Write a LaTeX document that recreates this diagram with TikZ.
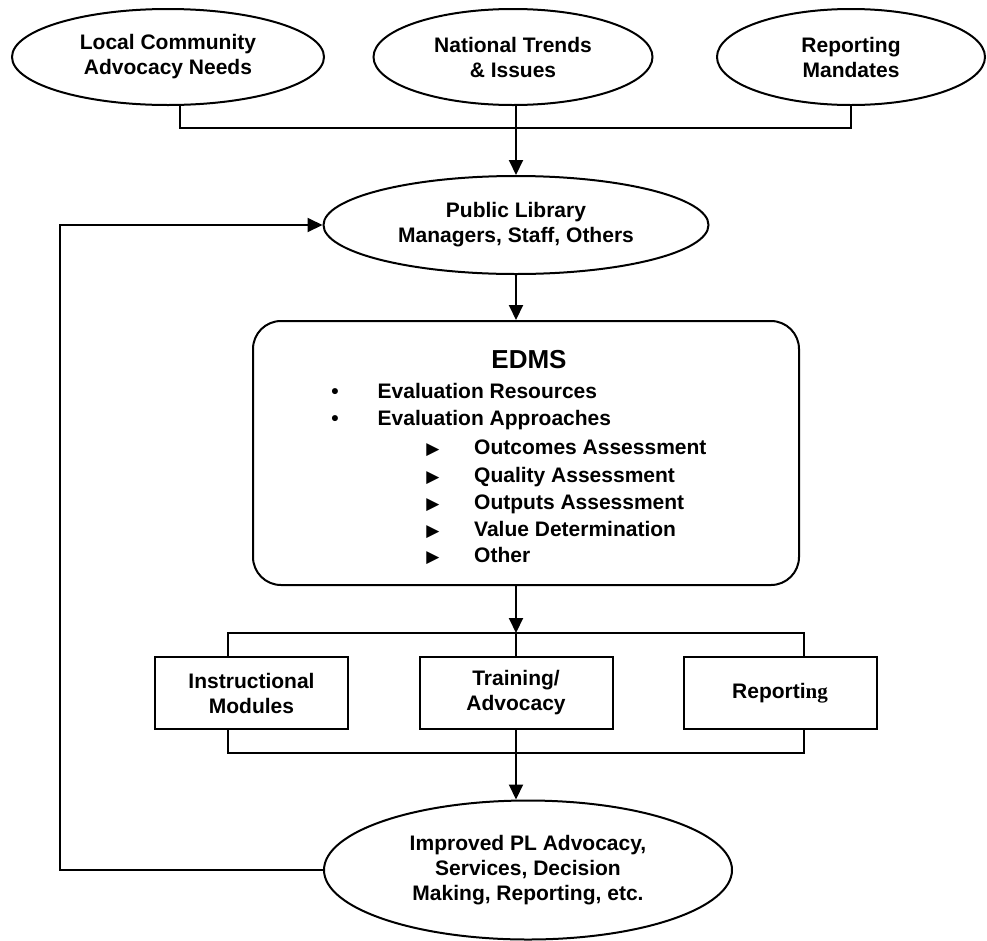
\documentclass[tikz,border=0pt]{standalone}
\usepackage{fontspec}
\setmainfont{Liberation Sans}
\newfontfamily\serifng{Liberation Serif}
\newfontfamily\symfam{DejaVu Sans}
\usetikzlibrary{shapes.geometric,arrows.meta}
\begin{document}
\begin{tikzpicture}[x=1pt,y=-1pt,
  every node/.style={font=\bfseries\fontsize{21}{25}\selectfont, align=center, inner sep=0pt},
  oval/.style={draw, ellipse, line width=2pt},
  box/.style={draw, rectangle, line width=2pt},
  conn/.style={line width=2pt},
  arr/.style={conn, -{Triangle[length=15pt,width=14pt]}},
  item/.style={anchor=base west},
  symb/.style={anchor=base},
  tri/.style={anchor=base, font=\symfam\fontsize{17}{17}\selectfont},
]
\useasboundingbox (0,0) rectangle (987,940);

% top ellipses
\node[oval, minimum width=312, minimum height=96] (tl) at (168,57) {Local Community\\Advocacy Needs};
\node[oval, minimum width=279, minimum height=96] (tm) at (513,57) {National Trends\\\& Issues};
\node[oval, minimum width=268, minimum height=96] (tr) at (851,57) {Reporting\\Mandates};

% public library
\node[oval, minimum width=385, minimum height=98] (pl) at (516,225) {Public Library\\Managers, Staff, Others};

% EDMS box
\node[box, rounded corners=28pt, minimum width=546, minimum height=264] (edms) at (526,453) {};
\node[symb] (edmst) at (529,368) {\fontsize{26}{30}\selectfont EDMS};
\node[symb] (bu1) at (335,398) {•};
\node[item] (e1) at (377.5,398) {Evaluation Resources};
\node[symb] (bu2) at (335,425) {•};
\node[item] (e2) at (377.5,425) {Evaluation Approaches};
\node[tri] (tr1) at (433,454) {▶};
\node[item] (s1) at (474,454) {Outcomes Assessment};
\node[tri] (tr2) at (433,482) {▶};
\node[item] (s2) at (474,482) {Quality Assessment};
\node[tri] (tr3) at (433,509) {▶};
\node[item] (s3) at (474,509) {Outputs Assessment};
\node[tri] (tr4) at (433,536) {▶};
\node[item] (s4) at (474,536) {Value Determination};
\node[tri] (tr5) at (433,562) {▶};
\node[item] (s5) at (474,562) {Other};

% three boxes
\node[box, minimum width=193, minimum height=72] (b1) at (251.5,693) {Instructional\\Modules};
\node[box, minimum width=193, minimum height=72] (b2) at (516,693) {Training/\\Advocacy};
\node[box, minimum width=193, minimum height=72] (b3) at (780,693) {Reporti{\serifng ng}};

% improved
\node[oval, minimum width=408, minimum height=139] (imp) at (528,870) {Improved PL Advocacy,\\Services, Decision\\Making, Reporting, etc.};

% junction coordinates
\coordinate (jt) at (516,128);
\coordinate (tb1) at (228,633);
\coordinate (tb3) at (804,633);
\coordinate (bb1) at (228,753);
\coordinate (bb3) at (804,753);
\coordinate (fbc) at (60,500);

% connectors
\draw[conn] ([xshift=12pt]tl.south) |- (jt) -| (tr.south);
\draw[arr] (pl.north |- tm.south) -- (pl.north);
\draw[arr] (pl.south) -- (pl.south |- edms.north);
\draw[arr] (b2.north |- edms.south) -- (b2.north |- tb1);
\draw[conn] (b1.north -| tb1) -- (tb1) -- (tb3) -- (b3.north -| tb3);
\draw[conn] (b2.north) -- (b2.north |- tb1);
\draw[conn] (b1.south -| bb1) -- (bb1) -- (bb3) -- (b3.south -| bb3);
\draw[arr] (b2.south) -- (b2.south |- imp.north);
\draw[arr] (imp.west) -| (fbc) |- (pl.west);
\end{tikzpicture}
\end{document}
